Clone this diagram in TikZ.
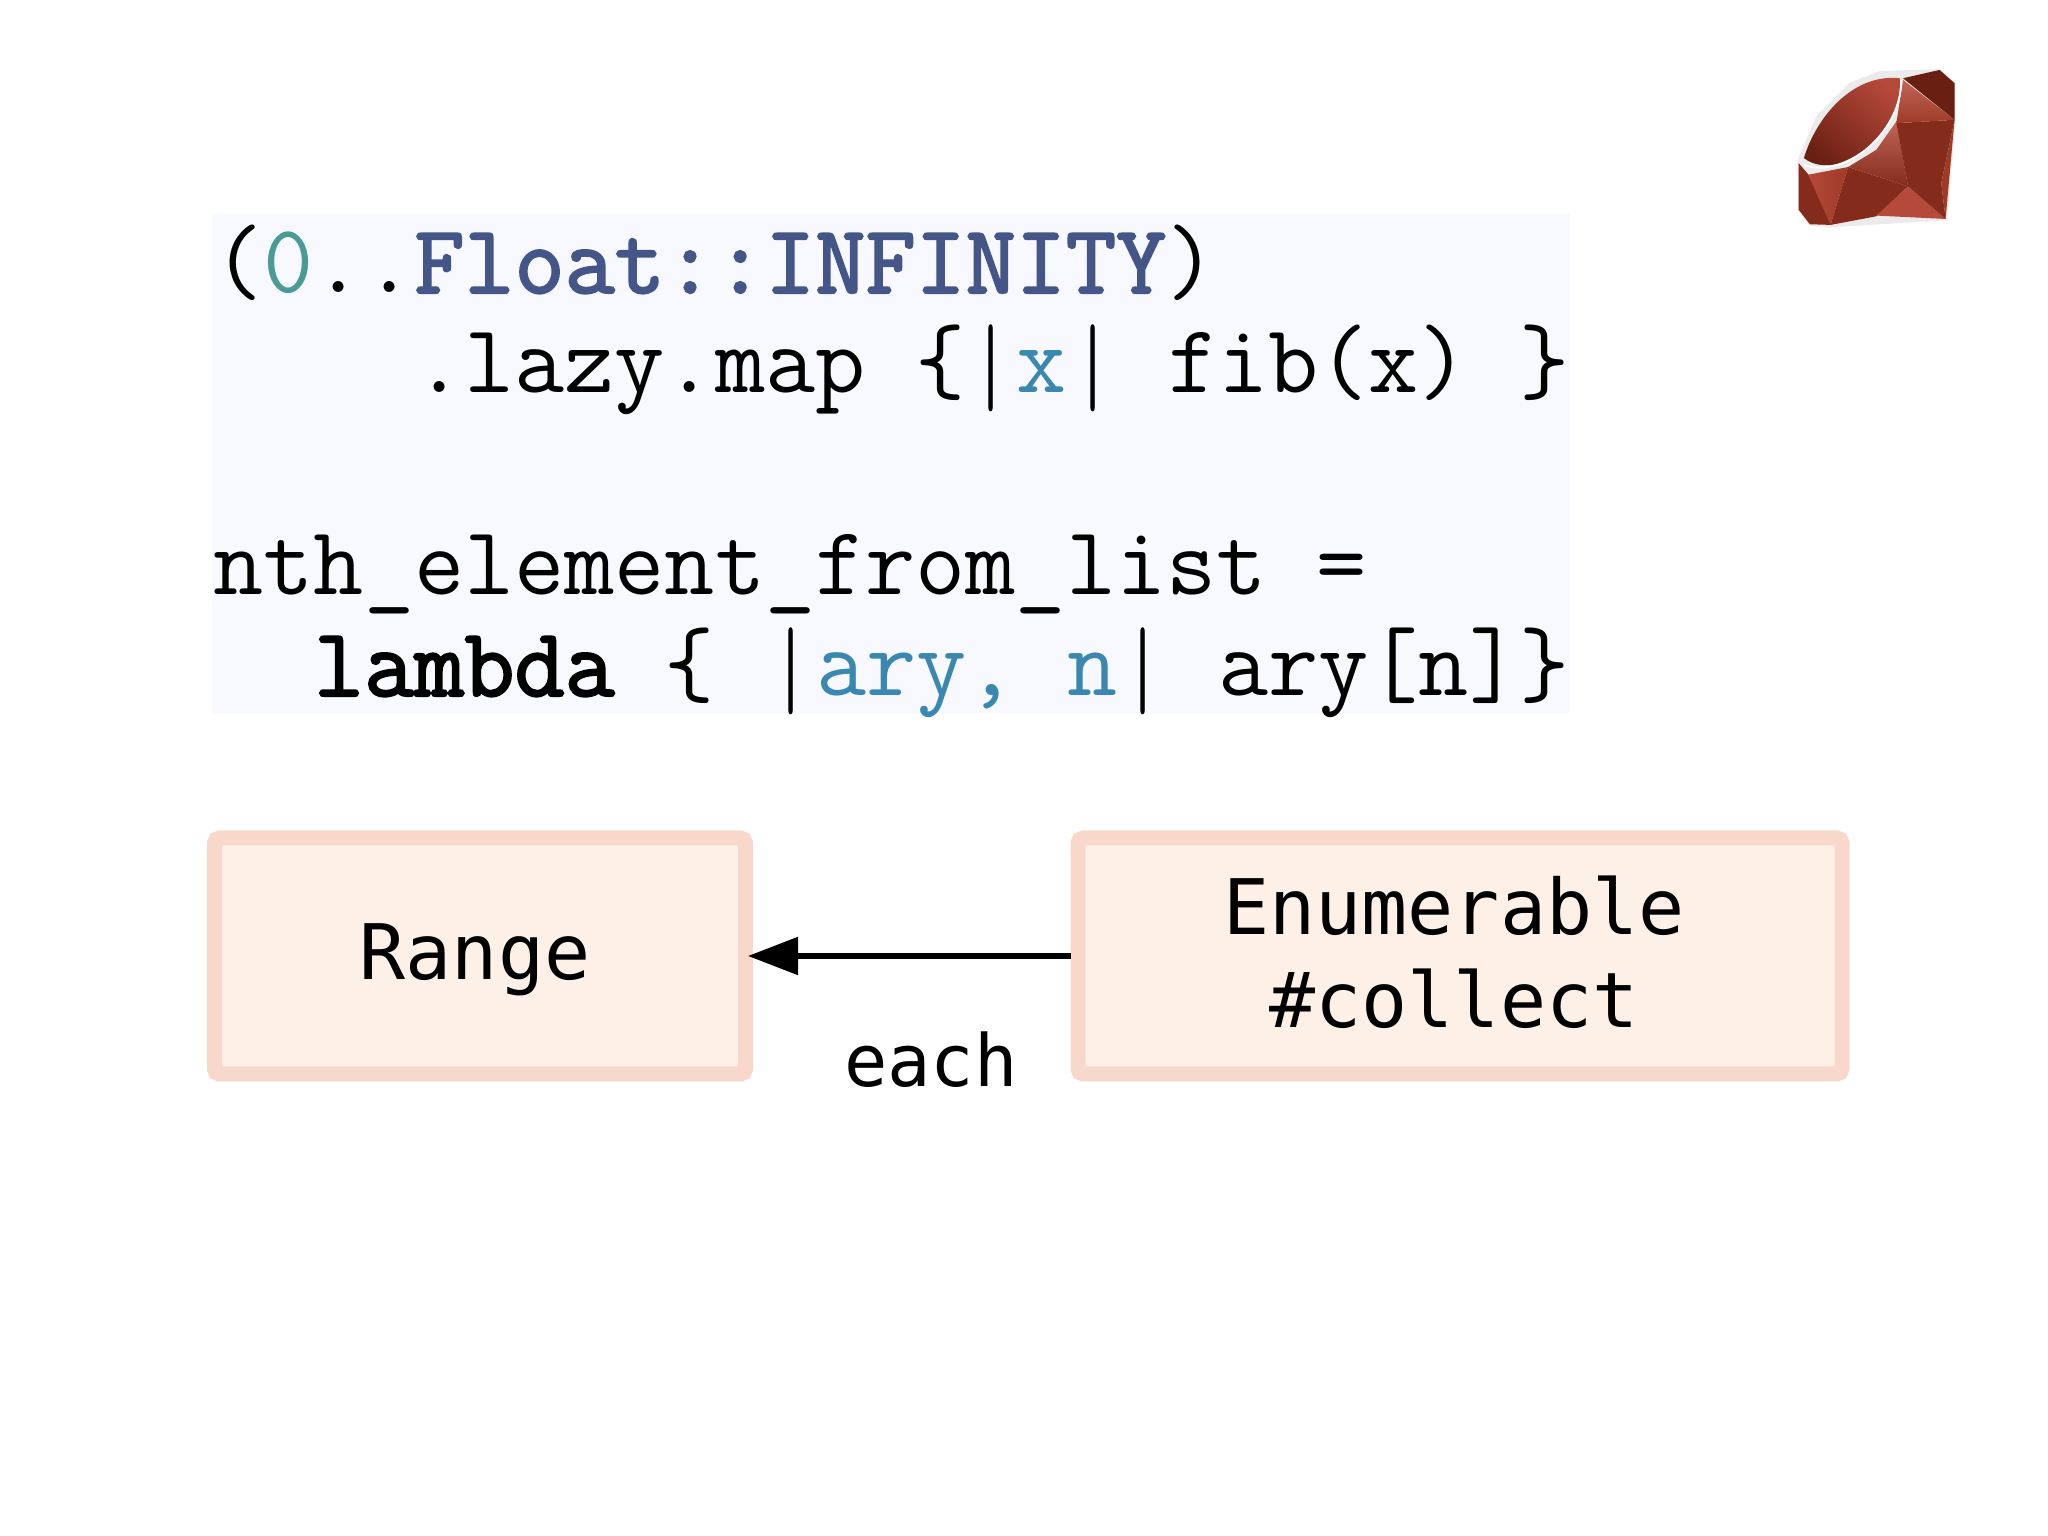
\documentclass[tikz,border=0pt]{standalone}
\usepackage{fontspec}
\usetikzlibrary{arrows.meta, positioning}
\newfontfamily\boxfont{DejaVu Sans Mono}
\newfontfamily\codebold[FakeBold=2.2]{Latin Modern Mono}
\definecolor{mPanel}{HTML}{F8F9FF}
\definecolor{mBorder}{HTML}{F8D8CA}
\definecolor{mFill}{HTML}{FDF0E6}
\definecolor{mTeal}{HTML}{4A9A96}
\definecolor{mNavy}{HTML}{445588}
\definecolor{mBlue}{HTML}{3A87B0}
\definecolor{mRuby}{HTML}{9E3B27}
\definecolor{mRubyL}{HTML}{B5493A}
\definecolor{mRubyD}{HTML}{842B1B}
\definecolor{mRubyK}{HTML}{6A1F13}
\newcommand{\codebar}{\makebox[0.525em]{\raisebox{-0.094em}{\scalebox{0.7}[1.15]{|}}}}
\tikzset{
  codeline/.style={anchor=base west, inner sep=0pt, font=\fontsize{27.7}{30}\selectfont\ttfamily},
  classbox/.style={draw=mBorder, fill=mFill, line width=1.5mm, rounded corners=0.5mm, align=center,
    font=\fontsize{21.8}{26.4}\selectfont\boxfont, minimum height=2.36cm, text depth=0.8mm}
}
\begin{document}
\begin{tikzpicture}
    \useasboundingbox (0,0) rectangle (20.48,15.36);
    % code panel
    \fill[mPanel] (2.12,13.23) rectangle (15.70,8.23);
    \node[codeline] (line1) at (2.13,12.43)
      {(\textcolor{mTeal}{0}..\textcolor{mNavy}{\codebold Float::INFINITY})};
    \node[codeline] (line2) at (2.13,11.43)
      {\ \ \ \ .lazy.map \{\codebar\textcolor{mBlue}{x}\codebar\ fib(x) \}};
    \node[codeline] (line3) at (2.13,9.41)
      {nth\_element\_from\_list =};
    \node[codeline] (line4) at (2.13,8.40)
      {\ \ {\codebold lambda} \{ \codebar\textcolor{mBlue}{ary, n}\codebar\ ary[n]\}};
    % boxes
    \node[classbox, minimum width=5.31cm] (range) at (4.80,5.80) {Range\hspace*{1.0mm}};
    \node[classbox, minimum width=7.64cm] (enumerable) at (14.60,5.80)
      {Enumerable\hspace*{1.2mm}\\\#collect\hspace*{1.2mm}};
    \draw[-{Triangle[length=5mm, width=3.7mm]}, line width=1.5pt, shorten >=-0.5mm] (enumerable.west) -- (range.east);
    \node[anchor=base, inner sep=0pt, font=\fontsize{20.5}{24}\selectfont\boxfont] (each) at (9.31,4.49) {each};
    % ruby logo
    \begin{scope}[shift={(17.6,14.86)}, x=0.00333cm, y=-0.00333cm]
      \fill[white!92!black] (113,330) -- (170,198) -- (270,98) -- (360,63) -- (540,58) -- (588,100)
        -- (588,210) -- (563,512) -- (210,533) -- (150,528) -- (113,482) -- cycle;
      \fill[mRubyD] (116,340) -- (150,380) -- (215,526) -- (150,524) -- (116,480) -- cycle;
      \shade[left color=mRubyL, right color=mRuby] (145,375) -- (265,352) -- (212,526) -- cycle;
      \fill[mRubyD] (265,352) -- (445,410) -- (350,500) -- (212,526) -- cycle;
      \fill[mRubyL] (445,410) -- (558,508) -- (350,498) -- cycle;
      \shade[top color=mRubyL!85!white, bottom color=mRubyD] (410,215) -- (445,410) -- (265,352) -- (350,300) -- cycle;
      \fill[mRubyD] (410,220) -- (585,210) -- (545,400) -- (558,508) -- (445,410) -- cycle;
      \fill[mRuby] (585,210) -- (558,508) -- (545,400) -- cycle;
      \shade[top color=mRubyL!85!white, bottom color=mRuby] (430,90) -- (585,210) -- (410,220) -- cycle;
      \fill[mRubyK] (430,85) -- (540,60) -- (585,100) -- (585,210) -- cycle;
      \shade[bottom color=mRubyK, top color=mRubyL, shading angle=-40] (132,325) .. controls (170,200) and (280,70) .. (420,85)
        .. controls (425,150) and (400,220) .. (340,280) .. controls (280,340) and (190,370) .. (132,325) -- cycle;
      \draw[white, line width=0.5pt] (132,345) .. controls (190,370) and (280,340) .. (340,280)
        .. controls (400,220) and (425,150) .. (425,90);
    \end{scope}
\end{tikzpicture}
\end{document}
